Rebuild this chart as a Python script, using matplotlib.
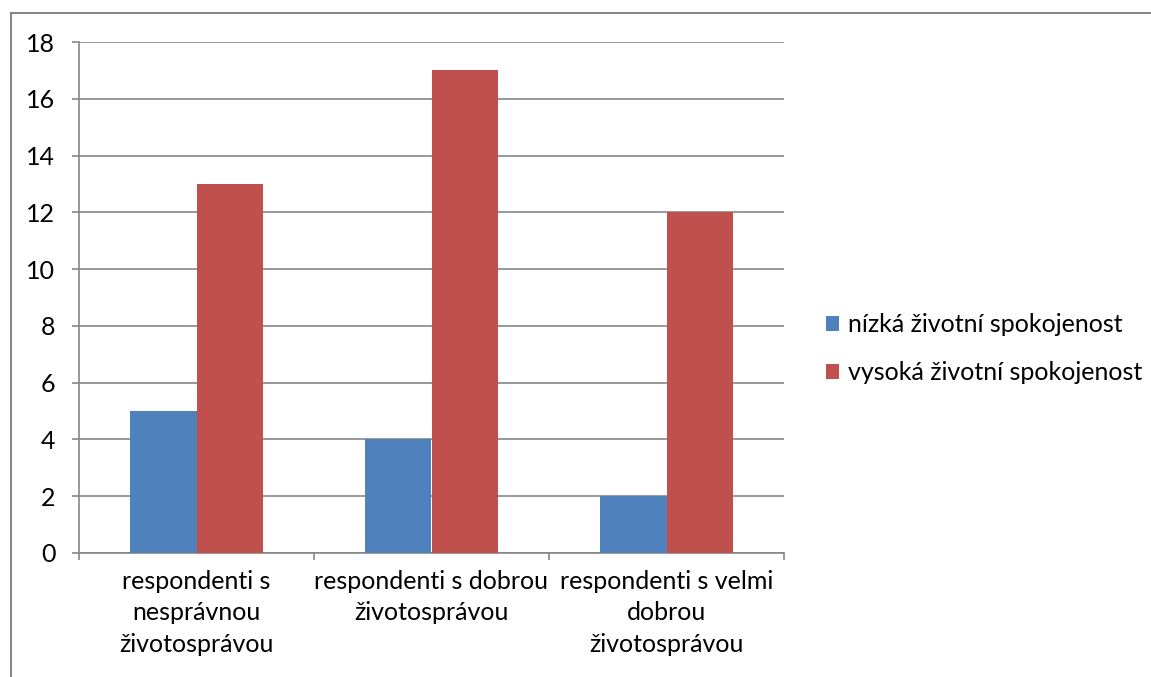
import numpy as np
import matplotlib.pyplot as plt
from matplotlib.lines import Line2D

plt.rcParams['font.family'] = ['Lato', 'DejaVu Sans']

# categories and values
kategorie = ["respondenti s\nnesprávnou\nživotosprávou",
             "respondenti s dobrou\nživotosprávou",
             "respondenti s velmi\ndobrou\nživotosprávou"]
nizka = [5, 4, 2]
vysoka = [13, 17, 12]
serie = ["nízká životní spokojenost", "vysoká životní spokojenost"]
barvy = ["#4F81BD", "#C0504D"]

W, H = 1151, 677
fig = plt.figure(figsize=(W / 100, H / 100), dpi=100)
ax = fig.add_axes([79 / W, 1 - 553 / H, (784 - 79) / W, (553 - 42) / H])

x = np.arange(len(kategorie))
sirka = 0.285
ax.bar(x - sirka / 2, nizka, sirka, color=barvy[0], label=serie[0], zorder=3)
ax.bar(x + sirka / 2, vysoka, sirka, color=barvy[1], label=serie[1], zorder=3)

ax.set_xlim(-0.5, len(kategorie) - 0.5)
ax.set_ylim(0, 18)
ax.set_yticks(range(0, 19, 2))
ax.yaxis.grid(True, color="#868686", linewidth=1.2, zorder=0)

for s in ["top", "right"]:
    ax.spines[s].set_visible(False)
for s in ["left", "bottom"]:
    ax.spines[s].set_color("#868686")
    ax.spines[s].set_linewidth(1.2)

ax.tick_params(axis="y", length=5, width=1.2, color="#868686",
               labelsize=18, pad=12)
ax.set_xticks(np.arange(-0.5, len(kategorie), 1.0))
ax.set_xticklabels([])
ax.tick_params(axis="x", length=5, width=1.2, color="#868686")
ax.set_xticks(x, minor=True)
ax.set_xticklabels(kategorie, minor=True, fontsize=18, linespacing=1.45)
ax.tick_params(axis="x", which="minor", length=0, pad=12)

# legend
ax.legend(loc="center left", bbox_to_anchor=(1.027, 0.4), frameon=False,
          fontsize=18, handlelength=0.55, handleheight=0.55,
          handletextpad=0.35, labelspacing=1.0)

# outer chart frame (left and top edges)
fig.add_artist(Line2D([11 / W, 11 / W], [0, 1 - 13 / H],
                      transform=fig.transFigure, color="#868686", lw=1.5))
fig.add_artist(Line2D([11 / W, 1], [1 - 13 / H, 1 - 13 / H],
                      transform=fig.transFigure, color="#868686", lw=1.5))

fig.savefig("out.png", dpi=100)
